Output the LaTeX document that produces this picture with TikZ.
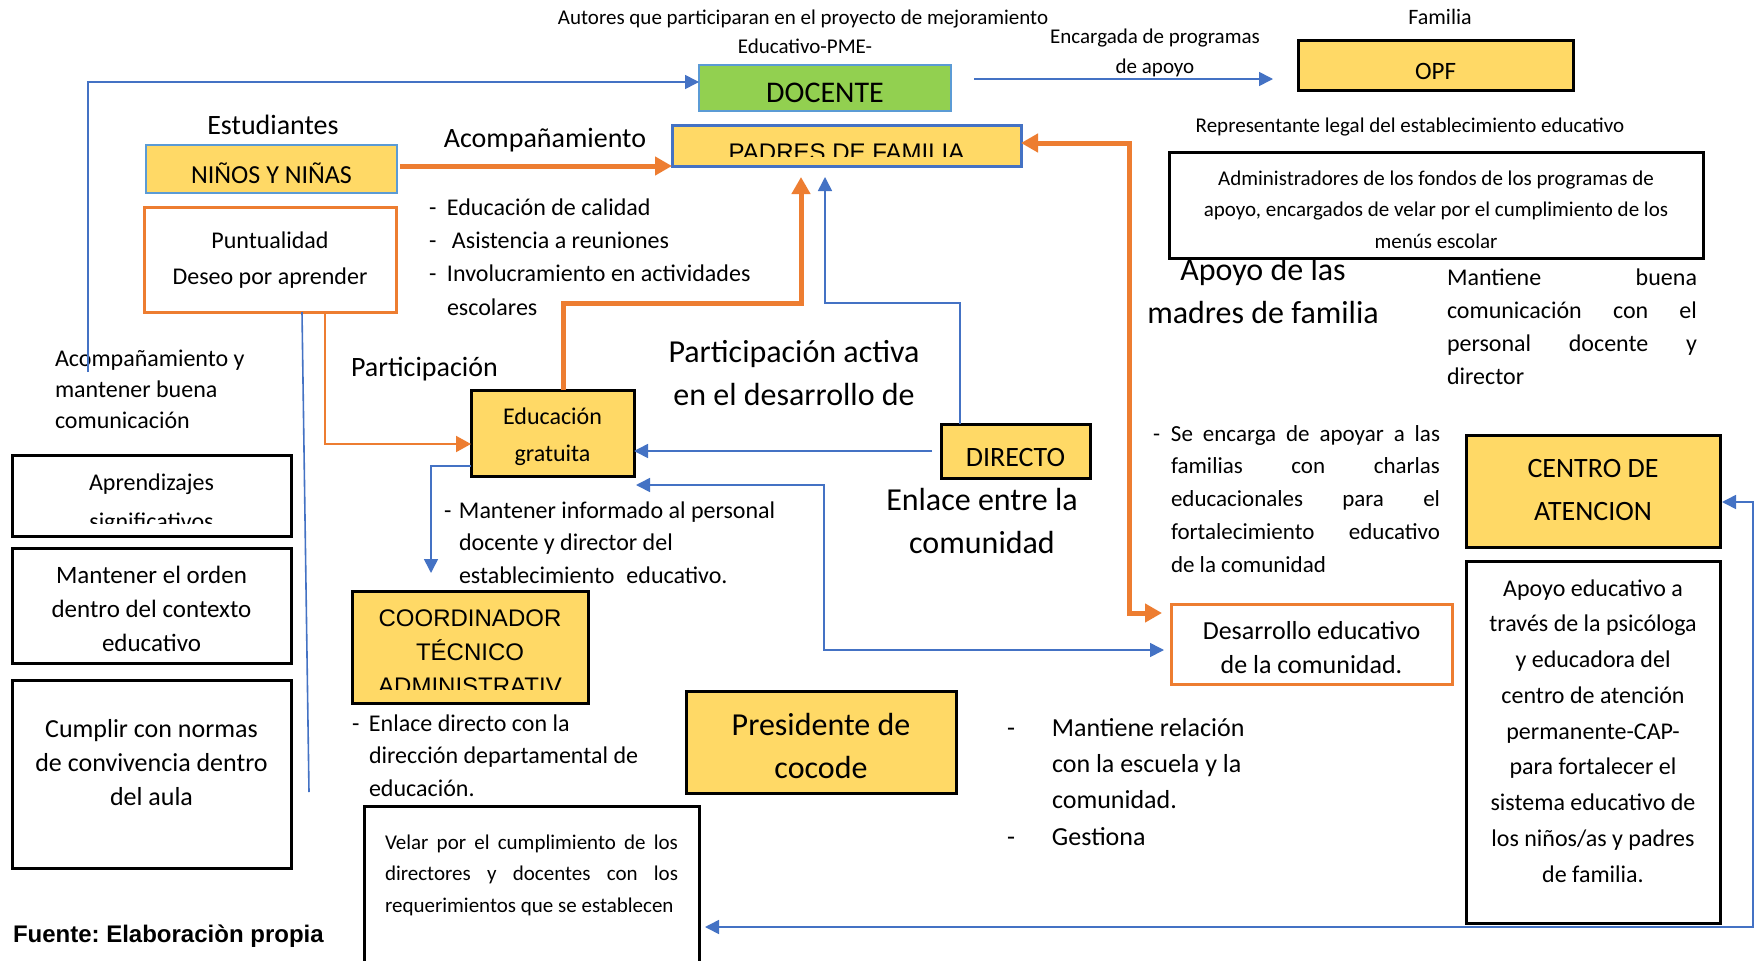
\documentclass[tikz,border=0pt]{standalone}
\usepackage{fontspec}
\setmainfont{Carlito}
\newfontfamily\arialf{Liberation Sans}
\usetikzlibrary{arrows.meta}
\definecolor{yel}{HTML}{FFD966}
\definecolor{grn}{HTML}{92D050}
\definecolor{org}{HTML}{ED7D31}
\definecolor{blu}{HTML}{4472C4}
\definecolor{lblu}{HTML}{5B9BD5}
\newcommand\myfs[2]{\fontsize{#1pt}{#2pt}\selectfont}
\newcommand\jline[2]{\makebox[#1pt][s]{#2}}
\begin{document}
\frenchspacing
\begin{tikzpicture}[x=1pt,y=-1pt,
  every node/.style={inner sep=0pt, outer sep=0pt},
  bx/.style={draw=black, line width=3pt, align=center},
  ybx/.style={bx, fill=yel},
  bln/.style={draw=blu, line width=1.6pt},
  bla/.style={bln, -{Triangle[length=14pt,width=14pt]}},
  blaa/.style={bln, {Triangle[length=14pt,width=14pt]}-{Triangle[length=14pt,width=14pt]}},
  ora/.style={draw=org, line width=5pt, -{Triangle[length=17pt,width=18pt]}},
  oraa/.style={draw=org, line width=5pt, {Triangle[length=17pt,width=18pt]}-{Triangle[length=17pt,width=18pt]}},
  ota/.style={draw=org, line width=2pt, -{Triangle[length=15pt,width=16pt]}},
  tx/.style={anchor=base, align=center},
  txl/.style={anchor=base west, align=left}]
\useasboundingbox (0,0) rectangle (1757,961);
\fill[white] (0,0) rectangle (1757,961);

% ---------- boxes ----------
\node[bx, fill=grn, draw=lblu, line width=1.5pt, minimum width=252pt, minimum height=46pt, text height=28pt, text depth=0pt, font={\myfs{30}{36}}] (docente) at (825,88) {DOCENTE};
\node[ybx, minimum width=275pt, minimum height=50pt, text height=28pt, text depth=0pt, font={\myfs{25}{30}}] (opf) at (1435.5,65) {OPF};
\node[ybx, draw=blu, minimum width=349pt, minimum height=41pt, text height=29pt, text depth=0pt, font={\arialf\myfs{24}{30}}] (padres) at (846.5,145.5) {PADRES DE FAMILIA};
\node[ybx, draw=lblu, line width=1.5pt, minimum width=251pt, minimum height=48pt, text height=28pt, text depth=0pt, font={\myfs{26}{30}}] (ninos) at (271.5,169) {NIÑOS Y NIÑAS};
\node[bx, draw=org, fill=white, minimum width=252pt, minimum height=105pt, text height=49pt, text depth=0pt, font={\myfs{24}{36}}] (punt) at (270,259.5) {Puntualidad\\Deseo por aprender};
\node[bx, minimum width=534pt, minimum height=106pt, text height=86pt, text depth=0pt, font={\myfs{21}{31.5}}] (admin) at (1436,205) {Administradores de los fondos de los programas de\\apoyo, encargados de velar por el cumplimiento de los\\menús escolar};
\node[ybx, minimum width=163pt, minimum height=86pt, text height=56pt, text depth=0pt, font={\myfs{24}{37}}] (edu) at (552.5,433) {Educación\\gratuita};
\node[bx, minimum width=279pt, minimum height=81pt, text height=67pt, text depth=0pt, font={\myfs{24}{39}}] (aprend) at (151.5,495.5) {Aprendizajes\\significativos};
\node[bx, minimum width=279pt, minimum height=115pt, text height=91pt, text depth=0pt, font={\myfs{25}{34}}] (orden) at (151.5,605.5) {Mantener el orden\\dentro del contexto\\educativo};
\node[bx, minimum width=279pt, minimum height=188pt, text height=62pt, text depth=0pt, font={\myfs{26}{34}}] (cumplir) at (151.5,774) {Cumplir con normas\\de convivencia dentro\\del aula};
\node[ybx, minimum width=236pt, minimum height=112pt, text height=94pt, text depth=0pt, font={\arialf\myfs{24}{34}}] (coord) at (470,647) {COORDINADOR\\TÉCNICO\\ADMINISTRATIV};
\node[bx, align=left, minimum width=335pt, minimum height=168pt, text height=44pt, text depth=0pt, font={\myfs{21}{31.5}}] (velar) at (531.5,890) {\jline{293}{Velar por el cumplimiento de los}\\\jline{293}{directores y docentes con los}\\requerimientos que se establecen};
\node[ybx, minimum width=149pt, minimum height=54pt, text height=30pt, text depth=0pt, font={\myfs{28}{34}}] (directo) at (1015.5,451) {DIRECTO};
\node[ybx, minimum width=270pt, minimum height=102pt, text height=72pt, text depth=0pt, font={\myfs{32}{43}}] (pres) at (821,742) {Presidente de\\cocode};
\node[bx, draw=org, fill=white, minimum width=281pt, minimum height=80pt, text height=58pt, text depth=0pt, font={\myfs{26}{34}}] (des) at (1311.5,644) {Desarrollo educativo\\de la comunidad.};
\node[ybx, minimum width=254pt, minimum height=112pt, text height=58pt, text depth=0pt, font={\myfs{28}{43}}] (centro) at (1593,491) {CENTRO DE\\ATENCION};
\node[bx, minimum width=254pt, minimum height=362pt, text height=280pt, text depth=0pt, font={\myfs{24}{35.75}}] (apoyo) at (1593,742) {Apoyo educativo a\\través de la psicóloga\\y educadora del\\centro de atención\\permanente-CAP-\\para fortalecer el\\sistema educativo de\\los niños/as y padres\\de familia.};

% clipped text bottoms, as in the reference
\fill[yel] (674,157) rectangle (1019,164.5);
\fill[white] (14,524) rectangle (289.5,534.5);
\fill[yel] (354,690) rectangle (586.5,701.5);

% ---------- free texts ----------
\node[tx, font={\myfs{21}{29}}] (t1) at (803,24) {Autores que participaran en el proyecto de mejoramiento};
\node[tx, font={\myfs{21}{29}}] (t2) at (805,53) {Educativo-PME-};
\node[tx, font={\myfs{21}{30}}] (t3) at (1155,73) {Encargada de programas\\de apoyo};
\node[tx, font={\myfs{22}{29}}] (t5) at (1440,24) {Familia};
\node[tx, font={\myfs{21}{29}}] (t6) at (1410,132) {Representante legal del establecimiento educativo};
\node[tx, font={\myfs{28}{34}}] (t7) at (273,134) {Estudiantes};
\node[tx, font={\myfs{28}{34}}] (t8) at (545,147) {Acompañamiento};
\node[txl, font={\myfs{24}{33.3}}] (t9) at (429,315) {\makebox[18pt][l]{-}Educación de calidad\\\makebox[23pt][l]{-}Asistencia a reuniones\\\makebox[18pt][l]{-}Involucramiento en actividades\\\hspace*{18pt}escolares};
\node[txl, font={\myfs{28}{34}}] (t10) at (351,376) {Participación};
\node[txl, font={\myfs{24}{31}}] (t11) at (55,428) {Acompañamiento y\\mantener buena\\comunicación};
\node[tx, font={\myfs{32}{43}}] (t12) at (794,405) {Participación activa\\en el desarrollo de};
\node[txl, font={\myfs{24}{32.7}}] (t13) at (444,583.4) {\makebox[15pt][l]{-}Mantener informado al personal\\\hspace*{15pt}docente y director del\\\hspace*{15pt}establecimiento\hspace{12pt}educativo.};
\node[tx, font={\myfs{32}{43}}] (t14) at (982,553) {Enlace entre la\\comunidad};
\node[tx, font={\myfs{32}{43}}] (t15) at (1263,323) {Apoyo de las\\madres de familia};
\node[txl, font={\myfs{24}{33}}] (t16) at (1447,384) {\jline{250}{Mantiene buena}\\\jline{250}{comunicación con el}\\\jline{250}{personal docente y}\\director};
\node[txl, font={\myfs{23}{32.8}}] (t17) at (1153,572.2) {\makebox[18pt][l]{-}\jline{269}{Se encarga de apoyar a las}\\\hspace*{18pt}\jline{269}{familias con charlas}\\\hspace*{18pt}\jline{269}{educacionales para el}\\\hspace*{18pt}\jline{269}{fortalecimiento educativo}\\\hspace*{18pt}de la comunidad};
\node[txl, font={\myfs{26}{36.3}}] (t18) at (1007,845) {\makebox[45pt][l]{-}Mantiene relación\\\hspace*{45pt}con la escuela y la\\\hspace*{45pt}comunidad.\\\makebox[45pt][l]{-}Gestiona};
\node[txl, font={\myfs{24}{32.7}}] (t19) at (352,796.4) {\makebox[17pt][l]{-}Enlace directo con la\\\hspace*{17pt}dirección departamental de\\\hspace*{17pt}educación.};
\node[txl, font={\arialf\bfseries\myfs{24}{30}}] (t20) at (13,942) {Fuente: Elaboraciòn propia};

% ---------- connectors ----------
\coordinate (lp) at (88,372);
\draw[bla] (lp) |- ([yshift=6pt]docente.west);
\draw[bla] ([xshift=23pt,yshift=9pt]docente.east) -- ([xshift=-25pt,yshift=-14pt]opf.west);
\draw[ora] ([xshift=3pt,yshift=3pt]ninos.east) -- (padres.south west);
\coordinate (k1) at (801,303);
\draw[ora] ([xshift=10.5pt]edu.north) |- (k1) -- ([xshift=-45.5pt,yshift=-11pt]padres.south);
\coordinate (k2) at (960,303);
\draw[bla] ([xshift=-55.5pt]directo.north) -- (k2) -| ([xshift=-21.5pt,yshift=-11pt]padres.south);
\draw[bla] ([xshift=-9pt]directo.west) -- ([yshift=-18pt]edu.east);
\coordinate (c9) at (636,485);
\coordinate (k9) at (824,485);
\draw[blaa] (c9) -- (k9) |- ([xshift=-7pt,yshift=-6pt]des.west);
\coordinate (k10) at (1129,143);
\draw[oraa] ([yshift=2.5pt]padres.east) -- (k10) |- ([xshift=-9pt,yshift=31pt]des.west);
\draw[ota] ([xshift=55pt]punt.south) |- ([yshift=-11pt]edu.west);
\coordinate (pe) at (309,792);
\draw[bln] ([xshift=32pt]punt.south) -- (pe);
\draw[bla] ([yshift=-33pt]edu.west) -| ([xshift=-39pt,yshift=18pt]coord.north);
\coordinate (k12) at (1753,927);
\draw[blaa] ([xshift=6pt,yshift=-37pt]velar.east) -- (k12) |- ([xshift=2pt,yshift=-11pt]centro.east);
\end{tikzpicture}
\end{document}
